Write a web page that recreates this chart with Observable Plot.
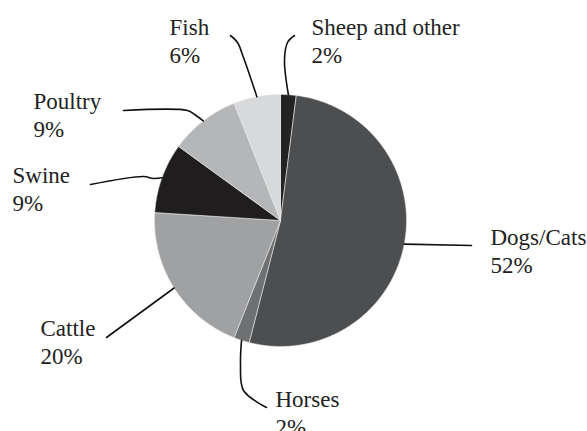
<!DOCTYPE html>
<html><head><meta charset="utf-8">
<script src="https://cdn.jsdelivr.net/npm/d3@7"></script>
<script src="https://cdn.jsdelivr.net/npm/@observablehq/plot@0.6"></script>
<style>
@font-face { font-family: "PieSerif"; src: local("Liberation Serif"), local("LiberationSerif"), local("Times New Roman"); }
body{margin:0;background:#fff;font-family:"Liberation Serif",serif}
#chart svg text, #chart svg tspan { font-family: "Liberation Serif", "PieSerif", "Times New Roman", serif !important; }
</style>
</head><body><div id="chart"></div>
<script>
// Data (clockwise from 12 o'clock)
const categories = ["Sheep and other", "Dogs/Cats", "Horses", "Cattle", "Swine", "Poultry", "Fish"];
const shares = [2, 52, 2, 20, 9, 9, 6];
const colors = ["#232323", "#4d4e50", "#6f7072", "#a0a1a3", "#1f1d1e", "#b5b6b8", "#d8d9db"];

// Layout
const W = 587, H = 431, cx = 280, cy = 220, R = 126, FS = 23;
const labelPos = {
  "Sheep and other": {x: 311, y: 15, path: [[284, 60], [287, 42], [294, 35]]},
  "Dogs/Cats": {x: 490, y: 225, path: [[471, 245]]},
  "Horses": {x: 275, y: 387, path: [[240, 363], [243, 390], [266, 407]]},
  "Cattle": {x: 40, y: 316, path: [[106, 337]]},
  "Swine": {x: 12, y: 163, path: [[153, 178], [143, 176], [90, 184]]},
  "Poultry": {x: 33, y: 89, path: [[194, 114], [187, 110], [123, 110]]},
  "Fish": {x: 169, y: 15, path: [[243, 57], [237, 42], [230, 35]]}
};

const arcs = d3.pie().sort(null).value(d => d.share)(
  categories.map((c, i) => ({cat: c, share: shares[i], color: colors[i]}))
);
const pt = (a, r = R) => [cx + r * Math.sin(a), cy - r * Math.cos(a)];

const slicePts = [];
for (const a of arcs) {
  slicePts.push({cat: a.data.cat, color: a.data.color, x: cx, y: cy});
  const n = Math.max(2, Math.ceil((a.endAngle - a.startAngle) / (Math.PI / 360)));
  for (let k = 0; k <= n; k++) {
    const t = a.startAngle + (a.endAngle - a.startAngle) * k / n;
    const [x, y] = pt(t);
    slicePts.push({cat: a.data.cat, color: a.data.color, x, y});
  }
  slicePts.push({cat: a.data.cat, color: a.data.color, x: cx, y: cy});
}

const leaderPts = [];
const labels = [];
for (const a of arcs) {
  const c = a.data.cat, L = labelPos[c];
  const mid = (a.startAngle + a.endAngle) / 2;
  const [ax, ay] = pt(mid);
  leaderPts.push({cat: c, x: ax, y: ay});
  for (const [x, y] of L.path) leaderPts.push({cat: c, x, y});
  labels.push({x: L.x, y: L.y, text: `${c}\n${a.data.share}%`});
}

const serif = "'Liberation Serif', PieSerif, 'Times New Roman', serif";
const chart = Plot.plot({
  width: W, height: H, margin: 0,
  x: {domain: [0, W], range: [0, W], axis: null},
  y: {domain: [0, H], range: [0, H], axis: null},
  style: {fontFamily: serif},
  marks: [
    Plot.line(slicePts, {x: "x", y: "y", z: "cat", fill: "color", stroke: "#e8e8e8", strokeWidth: 0.6, curve: "linear"}),
    Plot.line(leaderPts, {x: "x", y: "y", z: "cat", stroke: "#111", strokeWidth: 1.6, curve: "catmull-rom"}),
    Plot.text(labels, {x: "x", y: "y", text: "text", textAnchor: "start", lineAnchor: "top", lineHeight: 1.2, fontSize: FS, fontFamily: serif, fill: "#222"})
  ]
});
chart.setAttribute("font-family", serif);
document.getElementById("chart").appendChild(chart);
const applyFont = () => chart.querySelectorAll("text, tspan").forEach(el => { el.setAttribute("font-family", serif); el.style.fontFamily = serif; });
applyFont();
if (document.fonts && document.fonts.ready) document.fonts.ready.then(applyFont);
</script></body></html>
